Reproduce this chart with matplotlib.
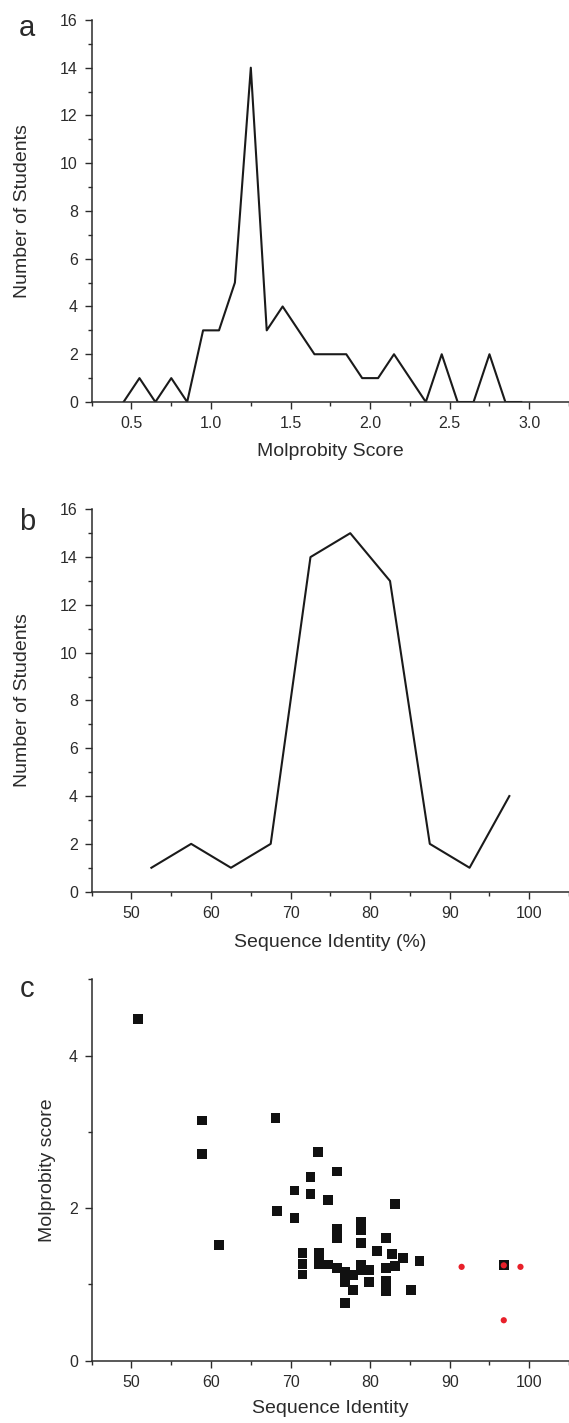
"""
Molprobity / sequence identity summary figure (panels a, b, c).
"""
import matplotlib
matplotlib.use('Agg')
import matplotlib.pyplot as plt
from matplotlib.ticker import MultipleLocator


# panel a: histogram of Molprobity scores (bin centres, counts)
molp_bins = [0.45, 0.55, 0.65, 0.75, 0.85, 0.95, 1.05, 1.15, 1.25, 1.35,
             1.45, 1.55, 1.65, 1.75, 1.85, 1.95, 2.05, 2.15, 2.25, 2.35,
             2.45, 2.55, 2.65, 2.75, 2.85, 2.95]
molp_counts = [0, 1, 0, 1, 0, 3, 3, 5, 14, 3,
               4, 3, 2, 2, 2, 1, 1, 2, 1, 0,
               2, 0, 0, 2, 0, 0]

# panel b: histogram of sequence identity
ident_bins = [52.5, 57.5, 62.5, 67.5, 72.5, 77.5, 82.5, 87.5, 92.5, 97.5]
ident_counts = [1, 2, 1, 2, 14, 15, 13, 2, 1, 4]

# panel c: student models (black squares)
stud_ident = [50.8, 58.9, 58.9, 61.0, 68.1, 68.3, 70.5, 70.5, 72.5, 72.5,
              73.4, 74.7, 75.8, 83.1, 71.5, 71.5, 71.5, 73.6, 73.6, 73.6,
              74.7, 75.8, 75.8, 75.8, 76.8, 76.8, 76.8, 77.8, 77.8, 78.9,
              78.9, 78.9, 78.9, 78.9, 79.9, 79.9, 80.9, 82.0, 82.0, 82.0,
              82.0, 82.8, 83.1, 84.1, 85.1, 86.2, 96.8]
stud_score = [4.48, 3.15, 2.71, 1.52, 3.18, 1.96, 2.23, 1.87, 2.41, 2.18,
              2.74, 2.11, 2.48, 2.05, 1.41, 1.27, 1.13, 1.41, 1.33, 1.26,
              1.26, 1.73, 1.61, 1.21, 1.16, 1.03, 0.76, 1.12, 0.93, 1.82,
              1.71, 1.54, 1.25, 1.19, 1.19, 1.03, 1.44, 1.61, 1.21, 1.04,
              0.91, 1.40, 1.24, 1.35, 0.93, 1.31, 1.25]

# panel c: reference structures (red dots)
ref_ident = [91.5, 96.8, 98.9, 96.8]
ref_score = [1.23, 1.25, 1.23, 0.53]


INK = '#2b2b2b'
plt.rcParams['font.family'] = ['Liberation Sans', 'DejaVu Sans']
plt.rcParams['text.color'] = INK
plt.rcParams['axes.labelcolor'] = INK
plt.rcParams['xtick.color'] = INK
plt.rcParams['ytick.color'] = INK


def style_axes(ax, xmajor, xminor, ymajor, yminor):
    for side in ('top', 'right'):
        ax.spines[side].set_visible(False)
    for side in ('left', 'bottom'):
        ax.spines[side].set_linewidth(1.1)
        ax.spines[side].set_color(INK)
    ax.xaxis.set_major_locator(MultipleLocator(xmajor))
    ax.xaxis.set_minor_locator(MultipleLocator(xminor))
    ax.yaxis.set_major_locator(MultipleLocator(ymajor))
    ax.yaxis.set_minor_locator(MultipleLocator(yminor))
    ax.tick_params(which='major', direction='out', length=5, width=1.0,
                   labelsize=11.5, pad=5)
    ax.tick_params(which='minor', direction='out', length=3, width=1.0)


fig = plt.figure(figsize=(5.69, 14.23), dpi=100)

# a
ax1 = fig.add_axes([0.1612, 0.7175, 0.8388, 0.2685])
ax1.plot(molp_bins, molp_counts, color='#1a1a1a', lw=1.5)
ax1.set_xlim(0.25, 3.25)
ax1.set_ylim(0, 16)
style_axes(ax1, 0.5, 0.25, 2, 1)
ax1.xaxis.set_major_formatter(plt.FormatStrFormatter('%.1f'))
ax1.set_xlabel('Molprobity Score', fontsize=14)
ax1.set_ylabel('Number of Students', fontsize=14)
ax1.xaxis.set_label_coords(0.5, -0.108)
ax1.yaxis.set_label_coords(-0.128, 0.5)
fig.text(0.048, 0.980, 'a', fontsize=21, ha='center', va='center')

# b
ax2 = fig.add_axes([0.1612, 0.3734, 0.8388, 0.2687])
ax2.plot(ident_bins, ident_counts, color='#1a1a1a', lw=1.5)
ax2.set_xlim(45, 105)
ax2.set_ylim(0, 16)
style_axes(ax2, 10, 5, 2, 1)
ax2.set_xlabel('Sequence Identity (%)', fontsize=14)
ax2.set_ylabel('Number of Students', fontsize=14)
ax2.xaxis.set_label_coords(0.5, -0.11)
ax2.yaxis.set_label_coords(-0.128, 0.5)
fig.text(0.048, 0.633, 'b', fontsize=21, ha='center', va='center')

# c
ax3 = fig.add_axes([0.1612, 0.0438, 0.8388, 0.2680])
ax3.scatter(stud_ident, stud_score, marker='s', s=50, color='#111111',
            edgecolors='none', zorder=3)
ax3.scatter(ref_ident, ref_score, marker='o', s=20, color='#e8202a',
            edgecolors='none', zorder=4)
ax3.set_xlim(45, 105)
ax3.set_ylim(0, 5)
style_axes(ax3, 10, 5, 2, 1)
ax3.set_xlabel('Sequence Identity', fontsize=14)
ax3.set_ylabel('Molprobity score', fontsize=14)
ax3.xaxis.set_label_coords(0.5, -0.102)
ax3.yaxis.set_label_coords(-0.074, 0.5)
fig.text(0.048, 0.305, 'c', fontsize=21, ha='center', va='center')

fig.savefig('out.png', dpi=100)
